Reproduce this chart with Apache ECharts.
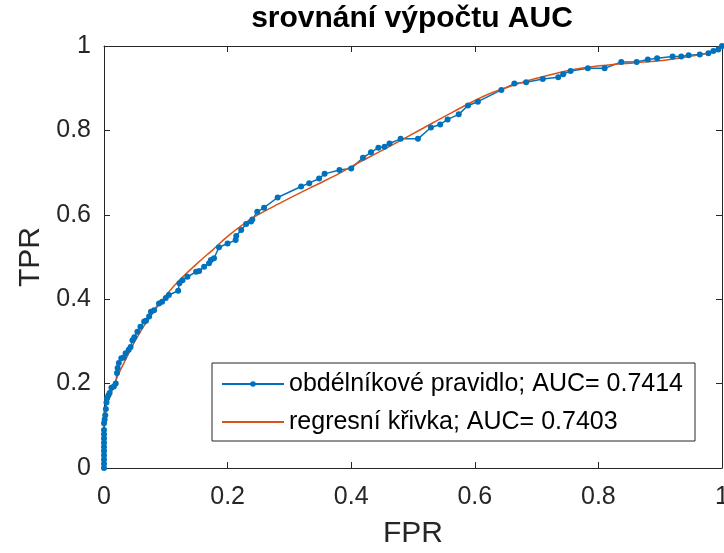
<!DOCTYPE html>
<html>
<head>
<meta charset="utf-8">
<script src="https://cdn.jsdelivr.net/npm/echarts@6/dist/echarts.min.js"></script>
<style>html,body{margin:0;padding:0;background:#fff;}#c{width:724px;height:553px;}</style>
</head>
<body>
<div id="c"></div>
<script>
// Obdélníkové pravidlo (empirical ROC) points
const rocFPR = [0,0,0,0,0,0,0,0,0,0,0,
  0.001,0.002,0.003,0.004,0.005,0.007,0.009,
  0.012,0.016,0.019,0.021,0.022,0.024,0.028,0.032,0.035,0.040,
  0.043,0.046,0.049,0.054,0.059,0.065,0.068,0.073,0.076,0.081,
  0.089,0.094,0.100,0.105,0.120,0.122,0.127,0.135,0.149,0.154,
  0.162,0.170,0.173,0.178,0.186,0.200,0.213,0.214,0.222,0.230,
  0.238,0.240,0.248,0.259,0.281,0.319,0.332,0.348,0.357,0.381,
  0.400,0.419,0.432,0.444,0.454,0.462,0.480,0.508,0.529,0.544,
  0.556,0.574,0.589,0.605,0.643,0.664,0.683,0.710,0.735,0.743,
  0.755,0.783,0.810,0.837,0.862,0.880,0.895,0.920,0.934,0.946,
  0.964,0.978,0.986,0.994,1.000];
const rocTPR = [0,0.01,0.02,0.03,0.04,0.05,0.06,0.07,0.08,0.09,0.106,
  0.115,0.125,0.14,0.155,0.165,0.172,0.178,
  0.19,0.193,0.2,0.225,0.237,0.249,0.26,0.262,0.272,0.28,
  0.287,0.303,0.31,0.323,0.335,0.347,0.349,0.359,0.37,0.374,
  0.39,0.394,0.403,0.41,0.42,0.438,0.445,0.453,0.465,0.467,
  0.477,0.485,0.493,0.497,0.523,0.532,0.54,0.55,0.564,0.578,
  0.584,0.589,0.607,0.617,0.641,0.667,0.675,0.686,0.697,0.706,
  0.71,0.735,0.748,0.759,0.761,0.769,0.78,0.78,0.807,0.814,
  0.826,0.838,0.859,0.868,0.896,0.911,0.914,0.922,0.926,0.933,
  0.941,0.947,0.947,0.962,0.962,0.968,0.971,0.975,0.975,0.978,
  0.98,0.983,0.988,0.992,1.0];
// Regresní křivka
const regFPR = [0,0.004,0.0135,0.022,0.032,0.051,0.073,0.103,0.122,0.154,0.176,0.2,0.24,0.284,0.338,0.381,0.402,0.457,0.511,0.565,0.619,0.673,0.694,0.748,0.802,0.856,0.91,0.964,0.985,1];
const regTPR = [0.13,0.152,0.185,0.218,0.248,0.303,0.355,0.414,0.445,0.489,0.517,0.549,0.592,0.627,0.667,0.698,0.716,0.758,0.801,0.844,0.884,0.912,0.921,0.941,0.953,0.96,0.967,0.979,0.986,1];

const titleText = 'srovnání výpočtu AUC';
const xName = 'FPR';
const yName = 'TPR';
const name1 = 'obdélníkové pravidlo; AUC= 0.7414';
const name2 = 'regresní křivka; AUC= 0.7403';

const FONT = 'Liberation Sans, Arial, Helvetica, sans-serif';
const AX = '#262626';
const rocData = rocFPR.map((x, i) => [x, rocTPR[i]]);
const regData = regFPR.map((x, i) => [x, regTPR[i]]);

const chart = echarts.init(document.getElementById('c'), null, {renderer: 'canvas'});
const baseAxis = {
  type: 'value', min: 0, max: 1, interval: 0.2,
  axisLine: {show: true, onZero: false, lineStyle: {color: AX, width: 1}},
  axisTick: {show: true, inside: true, length: 6, lineStyle: {color: AX, width: 1}},
  splitLine: {show: false},
};
chart.setOption({
  animation: false,
  backgroundColor: '#fff',
  title: {
    text: titleText, left: 412, top: 4, textAlign: 'center', padding: 0,
    textStyle: {fontFamily: FONT, fontSize: 30, fontWeight: 'bold', color: '#000'}
  },
  grid: {left: 104, right: 2, top: 46, bottom: 85, containLabel: false, outerBoundsMode: 'none'},
  xAxis: [
    Object.assign({}, baseAxis, {
      position: 'bottom',
      name: xName, nameLocation: 'middle', nameGap: 51,
      nameTextStyle: {fontFamily: FONT, fontSize: 30, color: AX},
      axisLabel: {fontFamily: FONT, fontSize: 25, color: AX, margin: 17}
    }),
    Object.assign({}, baseAxis, {position: 'top', axisLabel: {show: false}})
  ],
  yAxis: [
    Object.assign({}, baseAxis, {
      position: 'left',
      name: yName, nameLocation: 'middle', nameGap: 57,
      nameTextStyle: {fontFamily: FONT, fontSize: 30, color: AX},
      axisLabel: {fontFamily: FONT, fontSize: 25, color: AX, margin: 13}
    }),
    Object.assign({}, baseAxis, {position: 'right', axisLabel: {show: false}})
  ],
  legend: {
    orient: 'vertical', left: 212, top: 363,
    padding: [7, 12, 5, 9], itemGap: 10,
    itemWidth: 62, itemHeight: 7,
    backgroundColor: '#fff', borderColor: AX, borderWidth: 1,
    textStyle: {fontFamily: FONT, fontSize: 25, color: '#000', lineHeight: 28},
    data: [{name: name1}, {name: name2, itemStyle: {opacity: 0}}]
  },
  series: [
    {
      name: name1, type: 'line', data: rocData,
      symbol: 'circle', symbolSize: 6, clip: false,
      color: '#0072BD',
      lineStyle: {color: '#0072BD', width: 1.5},
      itemStyle: {color: '#0072BD'}
    },
    {
      name: name2, type: 'line', data: regData,
      symbol: 'none', smooth: 0.3,
      color: '#D95319',
      lineStyle: {color: '#D95319', width: 1.5},
      itemStyle: {color: '#D95319'}
    }
  ]
});
</script>
</body>
</html>
